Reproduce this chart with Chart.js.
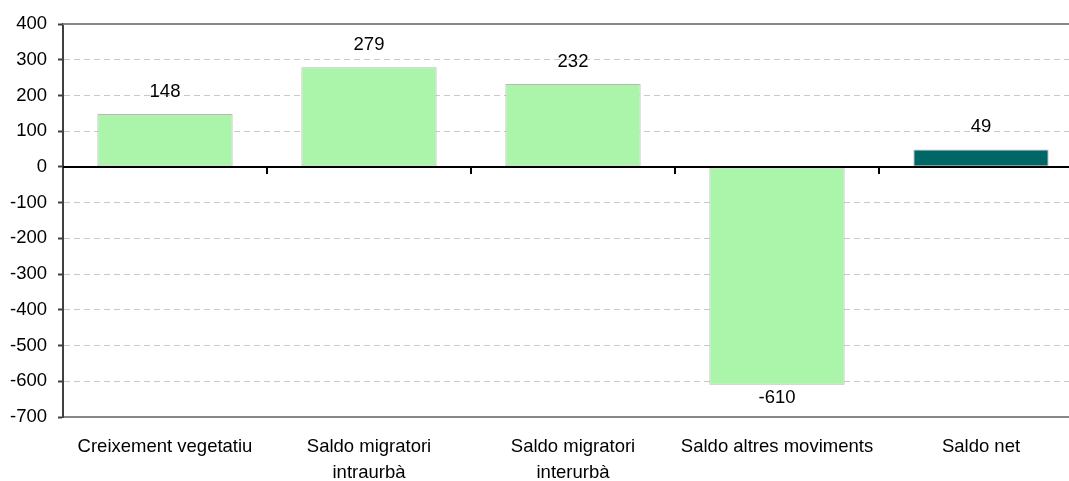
<!DOCTYPE html>
<html>
<head>
<meta charset="utf-8">
<script src="https://cdn.jsdelivr.net/npm/chart.js@4"></script>
<style>
  body { margin: 0; background: #fff; overflow: hidden; }
</style>
</head>
<body>
<canvas id="chart" width="1085" height="481"></canvas>
<script>
// Chart data
var categories = [
  'Creixement vegetatiu',
  ['Saldo migratori', 'intraurbà'],
  ['Saldo migratori', 'interurbà'],
  'Saldo altres moviments',
  'Saldo net'
];
var values = [148, 279, 232, -610, 49];
var barColors = ['#abf5ab', '#abf5ab', '#abf5ab', '#abf5ab', '#006666'];
var yMin = -700, yMax = 400, yStep = 100;

var FONT = 'Arial, "Liberation Sans", sans-serif';
var FSIZE = 18.5;

// value labels above / below each bar
var valueLabels = {
  id: 'valueLabels',
  afterDatasetsDraw: function(chart) {
    var ctx = chart.ctx;
    var meta = chart.getDatasetMeta(0);
    ctx.save();
    ctx.font = FSIZE + 'px ' + FONT;
    ctx.fillStyle = '#000';
    ctx.textAlign = 'center';
    meta.data.forEach(function(bar, i) {
      var v = values[i];
      if (v >= 0) {
        ctx.textBaseline = 'alphabetic';
        ctx.fillText(String(v), bar.x, bar.y - 17);
      } else {
        ctx.textBaseline = 'top';
        ctx.fillText(String(v), bar.x, bar.y + 4);
      }
    });
    ctx.restore();
  }
};

// zero line with category ticks, plus the top frame line
var frameLines = {
  id: 'frameLines',
  afterDatasetsDraw: function(chart) {
    var ctx = chart.ctx;
    var area = chart.chartArea;
    var y0 = chart.scales.y.getPixelForValue(0);
    var xs = chart.scales.x;
    ctx.save();
    ctx.strokeStyle = '#888';
    ctx.lineWidth = 2;
    ctx.beginPath();
    ctx.moveTo(area.left, area.top);
    ctx.lineTo(area.right, area.top);
    ctx.stroke();

    ctx.strokeStyle = '#000';
    ctx.lineWidth = 2;
    ctx.beginPath();
    ctx.moveTo(area.left, y0);
    ctx.lineTo(area.right, y0);
    for (var i = 1; i < categories.length; i++) {
      var x = (xs.getPixelForTick(i - 1) + xs.getPixelForTick(i)) / 2;
      ctx.moveTo(x, y0);
      ctx.lineTo(x, y0 + 7);
    }
    ctx.stroke();
    ctx.restore();
  }
};

new Chart(document.getElementById('chart').getContext('2d'), {
  type: 'bar',
  data: {
    labels: categories,
    datasets: [{
      data: values,
      backgroundColor: barColors,
      borderColor: '#b8b8b8',
      borderWidth: 1,
      borderSkipped: false,
      barPercentage: 0.663,
      categoryPercentage: 1
    }]
  },
  options: {
    responsive: false,
    animation: false,
    layout: { padding: { top: 24, right: 2, left: 0, bottom: 0 } },
    plugins: {
      legend: { display: false },
      tooltip: { enabled: false }
    },
    scales: {
      x: {
        offset: true,
        grid: { display: false, drawTicks: false },
        border: { display: true, color: '#888', width: 2 },
        ticks: {
          color: '#000',
          font: { family: FONT, size: FSIZE, lineHeight: 1.4 },
          padding: 17,
          maxRotation: 0,
          autoSkip: false
        },
        afterFit: function(scale) { scale.height = 64; }
      },
      y: {
        min: yMin,
        max: yMax,
        grid: {
          color: function(c) {
            var v = c.tick ? c.tick.value : null;
            return (v === 0 || v === yMax || v === yMin) ? 'rgba(0,0,0,0)' : '#c8c8c8';
          },
          lineWidth: 1,
          tickColor: '#404040',
          tickLength: 5,
          tickWidth: 2
        },
        border: { display: true, color: '#404040', width: 2, dash: [6, 4] },
        ticks: {
          stepSize: yStep,
          color: '#000',
          font: { family: FONT, size: FSIZE },
          padding: 11
        },
        afterFit: function(scale) { scale.width = 63; }
      }
    }
  },
  plugins: [valueLabels, frameLines]
});
</script>
</body>
</html>
